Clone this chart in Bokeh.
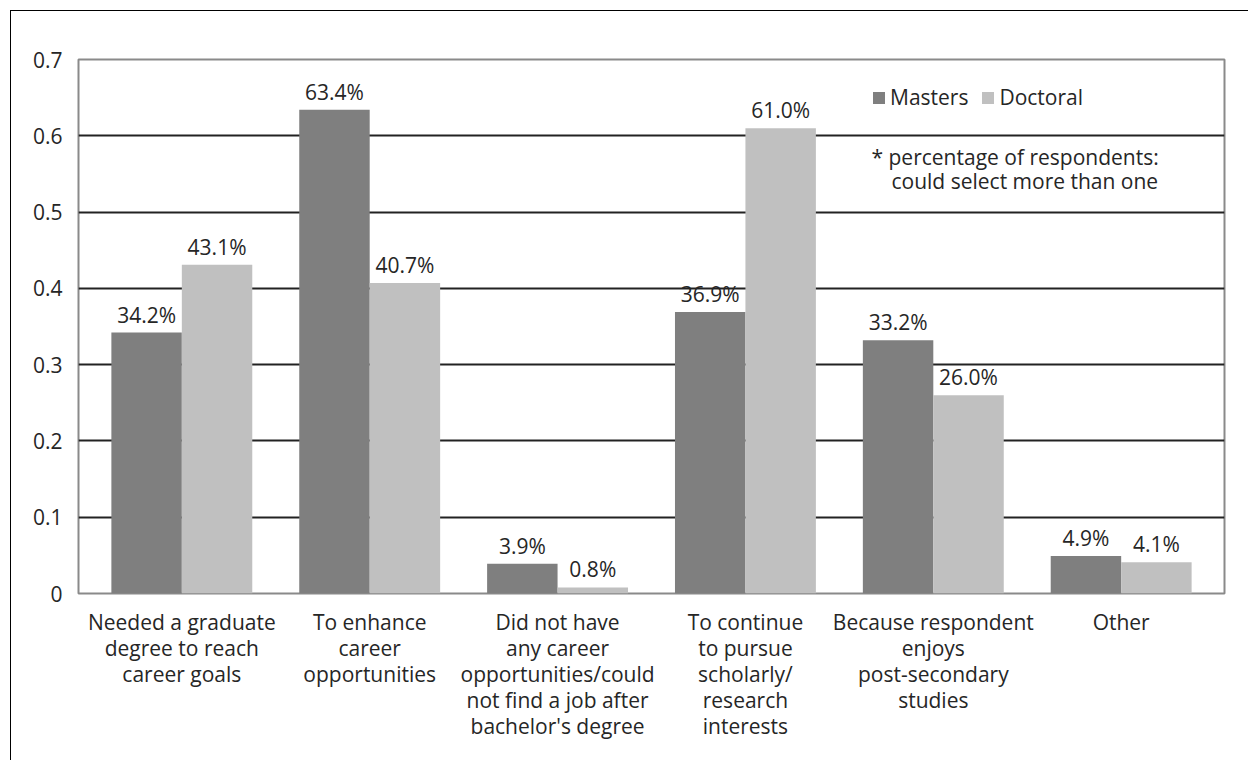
from bokeh.plotting import figure
from bokeh.models import FactorRange, ColumnDataSource, Legend, LegendItem, Label, FixedTicker
from bokeh.transform import dodge
from bokeh.core.properties import value
from bokeh.embed import file_html
from bokeh.resources import INLINE

categories = [
    "Needed a graduate\ndegree to reach\ncareer goals",
    "To enhance\ncareer\nopportunities",
    "Did not have\nany career\nopportunities/could\nnot find a job after\nbachelor's degree",
    "To continue\nto pursue\nscholarly/\nresearch\ninterests",
    "Because respondent\nenjoys\npost-secondary\nstudies",
    "Other",
]
masters = [0.342, 0.634, 0.039, 0.369, 0.332, 0.049]
doctoral = [0.431, 0.407, 0.008, 0.610, 0.260, 0.041]
y_ticks = [0, 0.1, 0.2, 0.3, 0.4, 0.5, 0.6, 0.7]
series_names = ["Masters", "Doctoral"]
note_lines = ["* percentage of respondents:", "could select more than one"]

FONT = "Open Sans"
DARK = "#7f7f7f"
LIGHT = "#c0c0c0"
TXT = "#262626"
FS = "21px"

src = ColumnDataSource(dict(
    cat=categories,
    masters=masters,
    doctoral=doctoral,
    m_lab=[f"{v*100:.1f}%" for v in masters],
    d_lab=[f"{v*100:.1f}%" for v in doctoral],
))

xr = FactorRange(factors=categories, range_padding=0.05, range_padding_units="absolute")
p = figure(width=1238, height=750, x_range=xr, y_range=(0, 0.7),
           output_backend="svg", toolbar_location=None,
           min_border_left=67, min_border_right=25, min_border_top=48, min_border_bottom=168)
p.styles = {"border-top": "1px solid #000", "border-left": "1px solid #000",
            "margin-left": "10px", "margin-top": "10px"}

W = 0.375
r1 = p.vbar(x=dodge("cat", -W / 2, range=p.x_range), top="masters", width=W, source=src,
            fill_color=DARK, line_color=None)
r2 = p.vbar(x=dodge("cat", W / 2, range=p.x_range), top="doctoral", width=W, source=src,
            fill_color=LIGHT, line_color=None)

for col, lab, off in (("masters", "m_lab", -W / 2), ("doctoral", "d_lab", W / 2)):
    p.text(x=dodge("cat", off, range=p.x_range), y=col, text=lab, source=src,
           text_align="center", text_baseline="bottom", y_offset=-4,
           text_font=value(FONT), text_font_size=FS, text_color=TXT)

p.outline_line_color = "#8a8a8a"
p.outline_line_width = 2
p.xgrid.grid_line_color = None
p.ygrid.grid_line_color = "#222222"
p.ygrid.grid_line_width = 2

p.yaxis.ticker = FixedTicker(ticks=y_ticks)
p.yaxis.major_label_overrides = {0: "0"}
for ax in (p.xaxis[0], p.yaxis[0]):
    ax.axis_line_color = None
    ax.major_tick_line_color = None
    ax.minor_tick_line_color = None
    ax.major_label_text_font = FONT
    ax.major_label_text_color = TXT
p.yaxis.major_label_text_font_size = FS
p.yaxis.major_label_standoff = 10
p.xaxis.major_label_text_font_size = FS
p.xaxis.major_label_standoff = 8
p.xaxis.major_label_text_line_height = 0.93

legend = Legend(items=[LegendItem(label=series_names[0], renderers=[r1]),
                       LegendItem(label=series_names[1], renderers=[r2])],
                orientation="horizontal", location=(793, 482),
                border_line_color=None, background_fill_alpha=0,
                glyph_width=15, glyph_height=15, label_standoff=4, spacing=12,
                padding=0, margin=0, label_text_font=FONT, label_text_font_size=FS,
                label_text_color=TXT)
p.add_layout(legend)

p.add_layout(Label(x=793, y=451, x_units="screen", y_units="screen", text=note_lines[0],
                   text_baseline="top", text_font=FONT, text_font_size=FS, text_color=TXT))
p.add_layout(Label(x=813, y=427, x_units="screen", y_units="screen", text=note_lines[1],
                   text_baseline="top", text_font=FONT, text_font_size=FS, text_color=TXT))

open("out.html", "w").write(file_html(p, INLINE))
